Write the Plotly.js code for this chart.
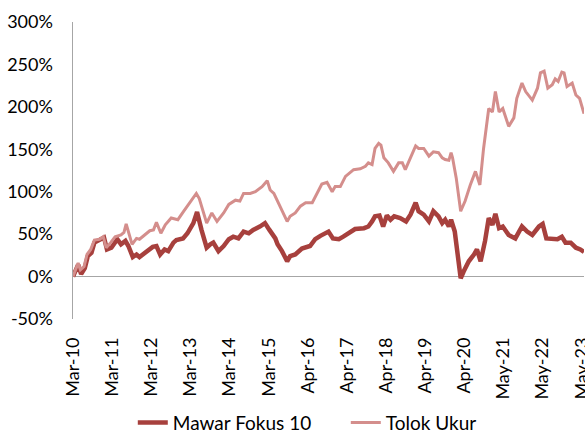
<!DOCTYPE html>
<html>
<head>
<meta charset="utf-8">
<script src="https://cdn.plot.ly/plotly-3.0.1.min.js"></script>
<style>html,body{margin:0;padding:0;background:#fff}#chart{width:585px;height:434px}</style>
</head>
<body>
<div id="chart"></div>
<script>
// Weekly data: x = week index since Mar-10, y = cumulative return (%)
const tickWeeks = [0,53,106,159,212,265,318,371,424,477,530,583,636,689];
const tickLabels = ["Mar-10","Mar-11","Mar-12","Mar-13","Mar-14","Mar-15","Apr-16","Apr-17","Apr-18","Apr-19","Apr-20","May-21","May-22","May-23"];

const mawarWeeks = [0,7,11,16,20,25,29,36,42,46,52,60,65,71,75,81,86,90,102,108,113,118,124,129,136,140,149,155,163,168,174,181,186,190,197,204,211,217,224,231,238,244,253,260,266,269,274,277,283,290,294,301,310,321,328,335,346,352,360,366,375,382,394,400,405,409,415,420,425,430,435,443,451,457,464,468,475,482,488,495,500,504,509,512,517,521,525,529,536,543,547,552,558,563,568,572,577,582,590,599,608,615,622,631,636,641,649,656,662,667,674,681,687,692];
const mawarValues = [0,14,3,10,24,28,40,43,46,32,34,44,38,42,36,23,26,23,30,35,36,26,32,30,40,43,45,51,63,76,55,34,38,40,30,36,44,47,45,53,51,55,59,63,55,51,45,38,30,18,24,26,33,36,44,48,53,45,44,47,53,56,57,59,65,71,72,59,72,67,71,69,65,73,87,77,73,65,77,71,63,67,59,67,53,26,-2,6,18,26,32,18,42,69,61,74,57,59,49,45,59,53,49,59,62,45,45,44,47,40,40,34,32,29];

const tolokWeeks = [0,7,10,15,19,24,29,36,41,45,51,57,65,69,72,76,80,86,90,97,104,109,113,119,125,133,142,150,163,167,171,177,181,188,195,204,211,220,226,231,240,247,256,263,267,272,276,282,285,290,294,301,308,315,324,330,337,344,351,355,362,369,375,380,389,396,400,405,409,414,417,421,427,434,441,446,450,457,464,468,475,482,488,495,500,504,509,512,514,519,525,531,538,545,551,556,563,568,572,577,582,590,597,601,608,613,622,629,633,638,643,649,653,657,662,665,669,676,681,686,692];
const tolokValues = [0,16,8,12,26,32,43,44,47,34,40,47,49,52,62,49,38,45,44,49,54,55,64,51,61,69,67,77,94,98,92,75,63,75,65,75,85,90,89,98,98,100,106,113,102,98,91,81,75,65,71,75,83,87,87,98,109,111,100,106,106,118,123,126,127,130,134,132,151,157,155,140,134,124,134,134,126,140,154,151,151,142,147,146,140,138,137,146,140,116,77,89,108,124,108,151,198,194,218,194,198,177,187,210,228,218,208,222,240,242,222,226,233,230,241,240,224,228,214,210,192];

const traces = [
  {x: mawarWeeks, y: mawarValues, name: "Mawar Fokus 10", type: "scatter", mode: "lines",
   line: {color: "#A7403D", width: 4.5}},
  {x: tolokWeeks, y: tolokValues, name: "Tolok Ukur", type: "scatter", mode: "lines",
   line: {color: "#D48E8C", width: 3}}
];

const font = {family: "Lato, 'Noto Sans', sans-serif", size: 18, color: "#000"};
const legendFont = {family: "Lato, 'Noto Sans', sans-serif", size: 19, color: "#000"};
const layout = {
  width: 585, height: 434,
  margin: {l: 73, r: 1, t: 22, b: 115, autoexpand: false},
  paper_bgcolor: "#fff", plot_bgcolor: "#fff",
  font: font,
  showlegend: true,
  legend: {orientation: "h", xref: "container", x: 0.227, xanchor: "left",
           yref: "container", y: 0.026, yanchor: "middle",
           font: legendFont, entrywidth: 168, entrywidthmode: "pixels", traceorder: "normal"},
  xaxis: {range: [0, 692], tickmode: "array", tickvals: tickWeeks, ticktext: tickLabels,
          tickangle: -90, showgrid: false, zeroline: false, showline: false,
          ticks: "", ticklabelstandoff: 14, ticklabeloverflow: "allow",
          tickfont: font, fixedrange: true},
  yaxis: {range: [-50, 300], tickmode: "array", tickvals: [-50,0,50,100,150,200,250,300],
          ticktext: ["-50%","0%","50%","100%","150%","200%","250%","300%"],
          showgrid: false, zeroline: true, zerolinecolor: "#A6A6A6", zerolinewidth: 1.5,
          showline: true, linecolor: "#A6A6A6", linewidth: 1.5, ticks: "",
          ticklabelstandoff: 15, tickfont: font, fixedrange: true}
};

Plotly.newPlot("chart", traces, layout, {displayModeBar: false, staticPlot: true});
</script>
</body>
</html>
